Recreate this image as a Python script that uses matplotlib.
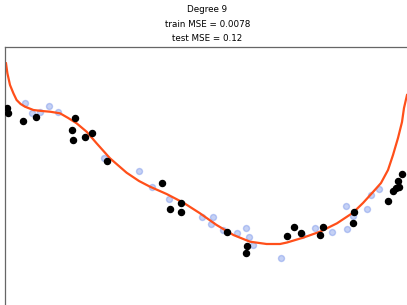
import matplotlib
matplotlib.use("Agg")
import matplotlib.pyplot as plt

# fitted degree-9 curve
curve_x = [0.0025, 0.006, 0.0125, 0.021, 0.029, 0.039, 0.05, 0.071, 0.092, 0.1125,
           0.1375, 0.158, 0.179, 0.204, 0.229, 0.2625, 0.304, 0.335, 0.3625, 0.404,
           0.446, 0.4875, 0.529, 0.571, 0.6125, 0.654, 0.6875, 0.705, 0.745, 0.7875,
           0.83, 0.87, 0.895, 0.92, 0.94, 0.9575, 0.97, 0.9825, 0.9925, 0.9975, 1.005]
curve_y = [1.867, 1.767, 1.65, 1.567, 1.50, 1.46, 1.433, 1.40, 1.39, 1.383,
           1.367, 1.32, 1.267, 1.183, 1.067, 0.917, 0.773, 0.69, 0.633, 0.56,
           0.473, 0.367, 0.25, 0.15, 0.083, 0.06, 0.06, 0.075, 0.123, 0.183,
           0.267, 0.373, 0.47, 0.58, 0.67, 0.80, 0.95, 1.12, 1.28, 1.42, 1.55]

# training samples (black)
train_x = [0.005, 0.0075, 0.045, 0.0775, 0.167, 0.17, 0.175, 0.20, 0.218, 0.256,
           0.392, 0.4125, 0.44, 0.44, 0.554, 0.605, 0.6025, 0.705, 0.7225, 0.74,
           0.7875, 0.795, 0.87, 0.8725, 0.9575, 0.97, 0.9775, 0.985, 0.9825, 0.9925]
train_y = [1.42, 1.37, 1.29, 1.33, 1.20, 1.10, 1.317, 1.133, 1.173, 0.893,
           0.673, 0.41, 0.47, 0.383, 0.183, 0.04, -0.03, 0.14, 0.23, 0.17,
           0.15, 0.23, 0.27, 0.38, 0.49, 0.59, 0.62, 0.63, 0.69, 0.76]

# test samples (light blue)
test_x = [0.05, 0.0675, 0.0875, 0.11, 0.1325, 0.248, 0.335, 0.3675, 0.41, 0.493,
          0.52, 0.515, 0.544, 0.579, 0.6025, 0.61, 0.62, 0.69, 0.7425, 0.775,
          0.8175, 0.855, 0.8525, 0.87, 0.905, 0.915, 0.935]
test_y = [1.47, 1.37, 1.38, 1.44, 1.38, 0.923, 0.793, 0.627, 0.51, 0.33,
          0.33, 0.26, 0.20, 0.173, 0.22, 0.133, 0.05, -0.08, 0.15, 0.22,
          0.18, 0.21, 0.44, 0.34, 0.41, 0.55, 0.61]

title = "Degree 9\ntrain MSE = 0.0078\ntest MSE = 0.12"

fig = plt.figure(figsize=(4.07, 3.05), dpi=100)
# the plot runs off the right and bottom edges of the image
ax = fig.add_axes([5 / 407, 1 - 310 / 305, 405 / 407, 263 / 305])

ax.plot(curve_x, curve_y, color="#ff4f1a", linewidth=1.6, zorder=2)
ax.scatter(train_x, train_y, color="black", s=19, zorder=3)
ax.scatter(test_x, test_y, color="royalblue", alpha=0.3, s=19, zorder=1)

ax.set_xlim(0, 1.0125)
ax.set_ylim(-0.60, 2.03)
ax.set_xticks([])
ax.set_yticks([])
for side in ax.spines.values():
    side.set_color("#666666")
    side.set_linewidth(0.9)

ax.set_title(title, fontsize=6.3, pad=4, linespacing=1.8)

fig.savefig("out.png", dpi=100)
